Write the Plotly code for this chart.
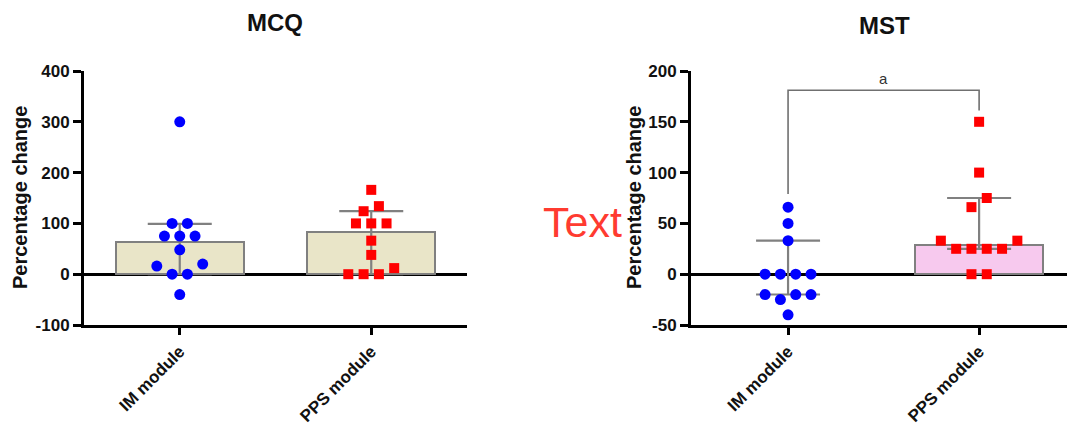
import plotly.graph_objects as go

# ---------------- data ----------------
categories = ["IM module", "PPS module"]

mcq_im = [300, 100, 100, 75, 75, 75, 48, 20, 16, 0, 0, -40]
mcq_pps = [166, 134, 124, 100, 100, 100, 66, 38, 12, 0, 0, 0]
mcq_median = [63, 84]
mcq_q1 = [0, 0]
mcq_q3 = [99, 124]
mcq_ticks = [-100, 0, 100, 200, 300, 400]

mst_im = [66, 50, 33, 0, 0, 0, 0, -20, -20, -20, -25, -40]
mst_pps = [150, 100, 75, 66, 33, 33, 25, 25, 25, 25, 0, 0]
mst_median = [0, 29]
mst_q1 = [-20, 25]
mst_q3 = [33, 75]
mst_ticks = [-50, 0, 50, 100, 150, 200]

mst_bracket = {"y": 181, "left_bottom": 79, "right_bottom": 161, "label": "a"}

# ---------------- layout constants ----------------
W, H = 1067, 428
FONT = "Arial, Liberation Sans, sans-serif"
YDOM = [1 - 325 / H, 1 - 71 / H]
LEFT_XDOM = [84 / W, 467 / W]
RIGHT_XDOM = [691 / W, 1.0]
LEFT_YR = [-100, 400]
RIGHT_YR = [-50, 200]
LEFT_XR = [-0.5, 1.5]
RIGHT_XR = [-0.508, 1.46]
SLOT_PX = 15.3
BAR_W = 0.667


def px_per_unit(yr):
    return (YDOM[1] - YDOM[0]) * H / (yr[1] - yr[0])


def px_per_xunit(xdom, xr):
    return (xdom[1] - xdom[0]) * W / (xr[1] - xr[0])


def swarm(values, ppu, slot_units, tol_px=10):
    order = sorted(range(len(values)), key=lambda i: values[i])
    rows = []
    for i in order:
        if rows and (values[i] - values[rows[-1][-1]]) * ppu < tol_px:
            rows[-1].append(i)
        else:
            rows.append([i])
    offs = [0.0] * len(values)
    for row in rows:
        n = len(row)
        slots = sorted([k - (n - 1) / 2 for k in range(n)], key=lambda s: (abs(s), s))
        for i, s in zip(row, slots):
            offs[i] = s * slot_units
    return offs


def tick_text(vals):
    return [str(v) for v in vals]  # plain hyphen minus like the original


fig = go.Figure()

panels = [
    dict(xa="x", ya="y", im=mcq_im, pps=mcq_pps, med=mcq_median, q1=mcq_q1, q3=mcq_q3,
         yr=LEFT_YR, xdom=LEFT_XDOM, xr=LEFT_XR, fills=["#e9e5c8", "#e9e5c8"]),
    dict(xa="x2", ya="y2", im=mst_im, pps=mst_pps, med=mst_median, q1=mst_q1, q3=mst_q3,
         yr=RIGHT_YR, xdom=RIGHT_XDOM, xr=RIGHT_XR, fills=["#f7c9ee", "#f7c9ee"]),
]

for p in panels:
    ppu = px_per_unit(p["yr"])
    slot = SLOT_PX / px_per_xunit(p["xdom"], p["xr"])
    fig.add_trace(go.Bar(
        x=[0, 1], y=p["med"], width=BAR_W, xaxis=p["xa"], yaxis=p["ya"],
        marker=dict(color=p["fills"],
                    line=dict(color="#808080", width=[2 if m != 0 else 0 for m in p["med"]])),
        error_y=dict(type="data", symmetric=False,
                     array=[b - a for a, b in zip(p["med"], p["q3"])],
                     arrayminus=[a - b for a, b in zip(p["med"], p["q1"])],
                     color="#808080", thickness=2.2, width=32),
        showlegend=False, hoverinfo="skip",
    ))
    offs_im = swarm(p["im"], ppu, slot)
    offs_pps = swarm(p["pps"], ppu, slot)
    fig.add_trace(go.Scatter(
        x=[0 + o for o in offs_im], y=p["im"], mode="markers", xaxis=p["xa"], yaxis=p["ya"],
        marker=dict(symbol="circle", size=11, color="#0000ff"), showlegend=False,
    ))
    fig.add_trace(go.Scatter(
        x=[1 + o for o in offs_pps], y=p["pps"], mode="markers", xaxis=p["xa"], yaxis=p["ya"],
        marker=dict(symbol="square", size=10, color="#ff0000"), showlegend=False,
    ))

axis_common_x = dict(
    showline=True, linewidth=3, linecolor="black", showgrid=False, zeroline=False,
    automargin=False,
    tickmode="array", tickvals=[0, 1], ticktext=categories, ticks="outside", ticklen=7,
    tickwidth=2.5, tickcolor="black", tickangle=-45,
    tickfont=dict(family=FONT, size=17, color="#111111", weight="bold"),
)
axis_common_y = dict(
    showline=True, linewidth=3, linecolor="black", showgrid=False,
    zeroline=True, zerolinecolor="black", zerolinewidth=3, automargin=False,
    ticks="outside", ticklen=8, tickwidth=2.5, tickcolor="black", tickmode="array",
    tickfont=dict(family=FONT, size=17, color="#111111", weight="bold"),
)

fig.update_layout(
    width=W, height=H, margin=dict(l=0, r=0, t=0, b=0),
    paper_bgcolor="white", plot_bgcolor="white", bargap=0,
    xaxis=dict(domain=LEFT_XDOM, range=LEFT_XR, anchor="y", **axis_common_x),
    yaxis=dict(domain=YDOM, range=LEFT_YR, anchor="x", tickvals=mcq_ticks,
               ticktext=tick_text(mcq_ticks), **axis_common_y),
    xaxis2=dict(domain=RIGHT_XDOM, range=RIGHT_XR, anchor="y2", **axis_common_x),
    yaxis2=dict(domain=YDOM, range=RIGHT_YR, anchor="x2", tickvals=mst_ticks,
                ticktext=tick_text(mst_ticks), **axis_common_y),
)

b = mst_bracket
fig.add_shape(type="path",
              path=f"M 0,{b['left_bottom']} L 0,{b['y']} L 1,{b['y']} L 1,{b['right_bottom']}",
              xref="x2", yref="y2", line=dict(color="#707070", width=1.6))

annotations = [
    dict(text="MCQ", x=275 / W, y=1 - 23 / H, size=24, bold=True),
    dict(text="MST", x=884 / W, y=1 - 26 / H, size=24, bold=True),
    dict(text="Percentage change", x=20 / W, y=1 - 198 / H, size=20, bold=True, angle=-90),
    dict(text="Percentage change", x=634 / W, y=1 - 198 / H, size=20, bold=True, angle=-90),
]
for a in annotations:
    fig.add_annotation(
        text=a["text"], x=a["x"], y=a["y"], xref="paper", yref="paper",
        showarrow=False, textangle=a.get("angle", 0), xanchor="center", yanchor="middle",
        font=dict(family=FONT, size=a["size"], color="#111111",
                  weight="bold" if a["bold"] else "normal"),
    )

fig.add_annotation(text=b["label"], x=0.5, y=b["y"], xref="x2", yref="y2", showarrow=False,
                   yanchor="bottom", yshift=1, font=dict(family=FONT, size=15, color="#333333"))

fig.add_annotation(text="Text", x=583 / W, y=1 - 222 / H, xref="paper", yref="paper",
                   showarrow=False, xanchor="center", yanchor="middle",
                   font=dict(family=FONT, size=43, color="#ff3b30"))

fig.write_html(
    "out.html",
    config={"displayModeBar": False},
    post_script="document.body.style.margin='0';document.body.style.overflow='hidden';",
)
